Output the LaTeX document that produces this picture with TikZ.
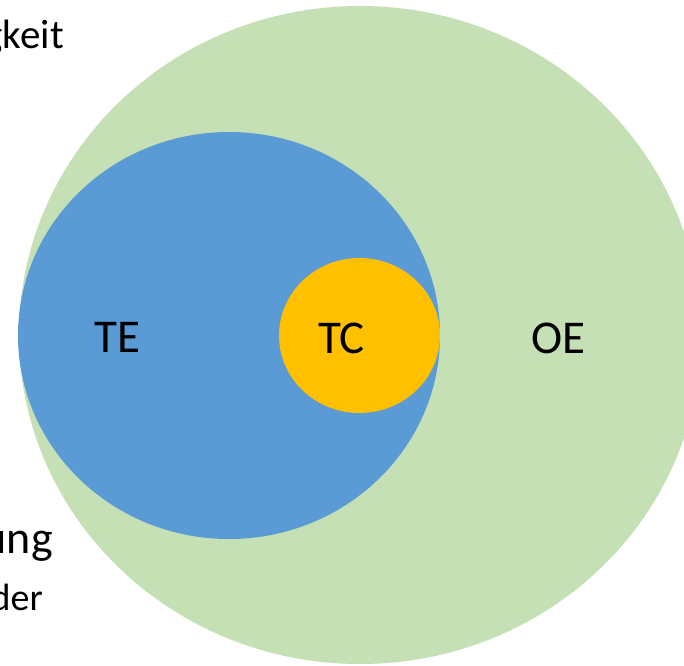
\documentclass[tikz,border=0pt]{standalone}
\usepackage{fontspec}
\setmainfont{Carlito}
\usetikzlibrary{shapes.geometric}
\definecolor{oegreen}{HTML}{C5E0B4}
\definecolor{teblue}{HTML}{5B9BD5}
\definecolor{tcorange}{HTML}{FFC000}

\begin{document}
\begin{tikzpicture}[x=1pt, y=-1pt, inner sep=0pt]
    \tikzstyle{set}=[ellipse, draw=none, inner sep=0pt]
    \tikzstyle{setlabel}=[anchor=base, font=\fontsize{47}{56}\selectfont]
    \tikzstyle{cuttext}=[anchor=base east, inner sep=0pt]

    % Picture frame
    \clip (0,0) rectangle (684,665);

    % Draw the sets
    \node[set, fill=oegreen, minimum width=682pt, minimum height=658pt] (OE) at (360,335) {};
    \node[set, fill=teblue, minimum width=422pt, minimum height=407pt] (TE) at (229,335.5) {};
    \node[set, fill=tcorange, minimum width=161pt, minimum height=155pt] (TC) at (359.5,335.5) {};

    % Label the sets
    \node[setlabel] (TE-label) at (117.5,352) {TE};
    \node[setlabel] (TC-label) at (341.5,353) {TC};
    \node[setlabel] (OE-label) at (558.5,353) {OE};

    % Text cut off at the left
    \node[cuttext, font=\fontsize{41}{49}\selectfont] (top-text) at (64,48) {gkeit};
    \node[cuttext, font=\fontsize{46}{55}\selectfont] (mid-text) at (53,553) {ung};
    \node[cuttext, font=\fontsize{38}{46}\selectfont] (low-text) at (43,610) {der};
\end{tikzpicture}
\end{document}
